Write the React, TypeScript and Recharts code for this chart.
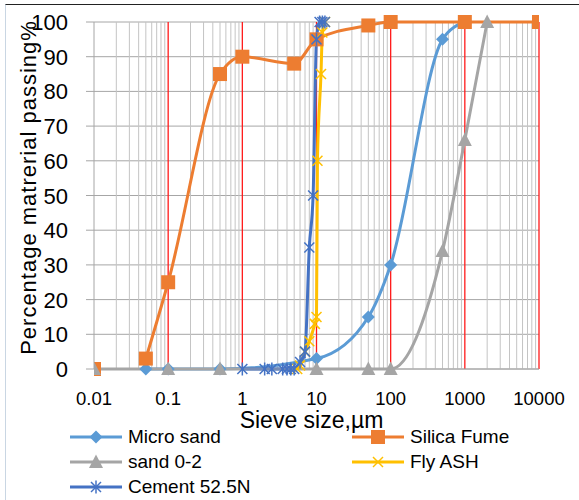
import React from 'react';
import { LineChart, Line, XAxis, YAxis, CartesianGrid, Legend, ReferenceLine } from 'recharts';

const decadeTicks = [0.01, 0.1, 1, 10, 100, 1000, 10000];
const decadeLabels = ['0.01', '0.1', '1', '10', '100', '1000', '10000'];
const redTicks = [0.1, 1, 10, 100, 1000, 10000];
const minorTicks: number[] = [];
for (let d = 0; d < 6; d++) {
  for (let k = 2; k <= 9; k++) minorTicks.push(Number((decadeTicks[d] * k).toPrecision(3)));
}
const yTicks = [0, 10, 20, 30, 40, 50, 60, 70, 80, 90, 100];

const microSandSize = [0.05, 0.1, 0.5, 10, 50, 100, 500, 1000];
const microSandPassing = [0, 0, 0, 3, 15, 30, 95, 100];

// blank cell at 0.02 leaves the 0.01 point unconnected, as in the source sheet
const silicaFumeSize = [0.01, 0.02, 0.05, 0.1, 0.5, 1, 5, 10, 50, 100, 1000, 10000];
const silicaFumePassing: (number | null)[] = [0, null, 3, 25, 85, 90, 88, 95, 99, 100, 100, 100];

const sand02Size = [0.01, 0.1, 0.5, 10, 50, 100, 500, 1000, 2000];
const sand02Passing = [0, 0, 0, 0, 0, 0, 34, 66, 100];

const flyAshSize = [5.5, 6, 7, 8, 9.5, 10, 10.3, 11.5, 12, 13];
const flyAshPassing = [0, 1, 5, 8, 13, 15, 60, 85, 97, 100];

const cementSize = [1, 2, 2.5, 3.5, 4, 4.5, 5, 6, 7, 8, 9, 10, 11, 12, 13];
const cementPassing = [0, 0, 0, 0, 0, 0, 0, 2, 5, 35, 50, 95, 100, 100, 100];

const toPoints = (xs: number[], ys: (number | null)[]) => xs.map((x, i) => ({ x, y: ys[i] }));

const FONT = '"Liberation Sans", Arial, sans-serif';

const COLORS = {
  micro: '#5B9BD5',
  silica: '#ED7D31',
  sand: '#A5A5A5',
  fly: '#FFC000',
  cement: '#4472C4',
};

type MarkerKind = 'diamond' | 'square' | 'triangle' | 'x' | 'star';

function markerShape(kind: MarkerKind, cx: number, cy: number, color: string, key?: string) {
  switch (kind) {
    case 'diamond':
      return <polygon key={key} points={`${cx},${cy - 6.5} ${cx + 6.5},${cy} ${cx},${cy + 6.5} ${cx - 6.5},${cy}`} fill={color} />;
    case 'square':
      return <rect key={key} x={cx - 7} y={cy - 7} width={14} height={14} fill={color} />;
    case 'triangle':
      return <polygon key={key} points={`${cx},${cy - 7.5} ${cx + 7},${cy + 6} ${cx - 7},${cy + 6}`} fill={color} />;
    case 'x':
      return (
        <g key={key} stroke={color} strokeWidth={1.5}>
          <line x1={cx - 5} y1={cy - 5} x2={cx + 5} y2={cy + 5} />
          <line x1={cx - 5} y1={cy + 5} x2={cx + 5} y2={cy - 5} />
        </g>
      );
    case 'star':
    default:
      return (
        <g key={key} stroke={color} strokeWidth={1.5}>
          <line x1={cx - 5} y1={cy - 5} x2={cx + 5} y2={cy + 5} />
          <line x1={cx - 5} y1={cy + 5} x2={cx + 5} y2={cy - 5} />
          <line x1={cx} y1={cy - 6.5} x2={cx} y2={cy + 6.5} />
        </g>
      );
  }
}

const makeDot = (kind: MarkerKind, color: string) => (props: any) => {
  const { cx, cy, index, value } = props;
  if (cx == null || cy == null || value == null || Number.isNaN(cy)) return <g key={`e-${kind}-${index}`} />;
  return markerShape(kind, cx, cy, color, `d-${kind}-${index}`);
};

const series = [
  { name: 'Micro sand', data: toPoints(microSandSize, microSandPassing), color: COLORS.micro, marker: 'diamond' as MarkerKind },
  { name: 'Silica Fume', data: toPoints(silicaFumeSize, silicaFumePassing), color: COLORS.silica, marker: 'square' as MarkerKind },
  { name: 'sand 0-2', data: toPoints(sand02Size, sand02Passing), color: COLORS.sand, marker: 'triangle' as MarkerKind },
  { name: 'Fly ASH', data: toPoints(flyAshSize, flyAshPassing), color: COLORS.fly, marker: 'x' as MarkerKind },
  { name: 'Cement 52.5N', data: toPoints(cementSize, cementPassing), color: COLORS.cement, marker: 'star' as MarkerKind },
];

const LegendContent = () => (
  <div
    style={{
      display: 'grid',
      gridTemplateColumns: '282px 200px',
      paddingLeft: 69,
      rowGap: 0,
      fontFamily: FONT,
      fontSize: 19,
      color: '#000',
    }}
  >
    {series.map((s) => (
      <div key={s.name} style={{ display: 'flex', alignItems: 'center', height: 25 }}>
        <svg width={54} height={20} style={{ marginRight: 5 }}>
          <line x1={1} y1={10} x2={53} y2={10} stroke={s.color} strokeWidth={3} />
          {markerShape(s.marker, 27, 10, s.color)}
        </svg>
        <span style={{ whiteSpace: 'nowrap' }}>{s.name}</span>
      </div>
    ))}
  </div>
);

const XTick = (p: any) => {
  const v = p.payload?.value;
  const idx = decadeTicks.indexOf(v);
  return (
    <text x={p.x} y={p.y} dy={28} textAnchor="middle" fontSize={18.5} fill="#000" fontFamily={FONT}>
      {idx >= 0 ? decadeLabels[idx] : String(v)}
    </text>
  );
};

const YTick = (p: any) => (
  <text x={p.x} y={p.y} dx={-16} dy={8} textAnchor="end" fontSize={22} fill="#000" fontFamily={FONT}>
    {p.payload?.value}
  </text>
);

export default function App() {
  return (
    <div style={{ position: 'absolute', left: 0, top: 0, width: 579, height: 500, background: '#fff' }}>
      <div
        style={{
          position: 'absolute',
          left: 5,
          top: 4,
          width: 580,
          height: 500,
          borderTop: '1.5px solid #222',
          borderLeft: '1px solid #c9d6e3',
          boxSizing: 'border-box',
        }}
      />
      <LineChart width={579} height={500} margin={{ top: 22, right: 40, left: 0, bottom: 0 }} style={{ fontFamily: FONT }}>
        <CartesianGrid vertical={false} stroke="#A6A6A6" strokeWidth={1} />
        {minorTicks.map((v) => (
          <ReferenceLine key={`m-${v}`} x={v} stroke="#C4C4C4" strokeWidth={1} />
        ))}
        {redTicks.map((v) => (
          <ReferenceLine key={`r-${v}`} x={v} stroke="#FF1A1A" strokeWidth={1.3} />
        ))}
        <XAxis
          type="number"
          dataKey="x"
          scale="log"
          domain={[0.01, 10000]}
          ticks={decadeTicks}
          allowDataOverflow
          height={131}
          tickLine={false}
          tickSize={6}
          axisLine={{ stroke: '#A6A6A6' }}
          tick={XTick}
          label={{
            content: (p: any) => {
              const vb = p.viewBox || { x: 94, y: 369, width: 445 };
              return (
                <text x={vb.x + vb.width / 2 - 5} y={vb.y + 59} textAnchor="middle" fontSize={23} fill="#000" fontFamily={FONT}>
                  Sieve size,µm
                </text>
              );
            },
          }}
        />
        <YAxis
          type="number"
          domain={[0, 100]}
          ticks={yTicks}
          width={94}
          tickSize={8}
          axisLine={{ stroke: '#A6A6A6' }}
          tickLine={{ stroke: '#A6A6A6' }}
          tick={YTick}
          label={{
            content: (p: any) => {
              const vb = p.viewBox || { x: 0, y: 22, height: 347 };
              const cx = vb.x + 28;
              const cy = vb.y + vb.height / 2 - 8;
              return (
                <text
                  x={cx}
                  y={cy}
                  transform={`rotate(-90, ${cx}, ${cy})`}
                  textAnchor="middle"
                  dominantBaseline="central"
                  fontSize={22}
                  letterSpacing={1.0}
                  fill="#000"
                  fontFamily={FONT}
                >
                  Percentage matrerial passing%
                </text>
              );
            },
          }}
        />
        {series.map((s) => (
          <Line
            key={s.name}
            data={s.data}
            dataKey="y"
            name={s.name}
            type="monotone"
            stroke={s.color}
            strokeWidth={3}
            dot={makeDot(s.marker, s.color)}
            activeDot={false}
            connectNulls={false}
            isAnimationActive={false}
          />
        ))}
        <Legend
          layout="horizontal"
          verticalAlign="middle"
          align="center"
          wrapperStyle={{ top: 424, left: 0, width: 579 }}
          content={LegendContent}
        />
      </LineChart>
    </div>
  );
}
